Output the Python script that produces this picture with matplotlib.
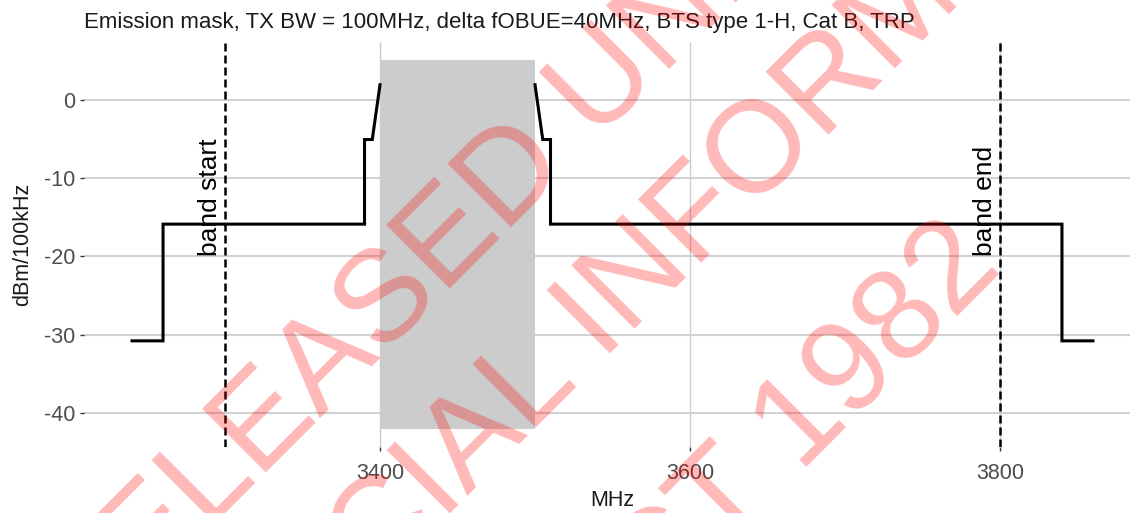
import matplotlib
matplotlib.use("Agg")
import matplotlib.pyplot as plt

# Emission mask, split around the carrier (MHz, dBm/100kHz)
lower_freq = [3240, 3260, 3260, 3390, 3390, 3395, 3400]
lower_level = [-30.8, -30.8, -15.9, -15.9, -5.1, -5.1, 1.9]
upper_freq = [3500, 3505, 3510, 3510, 3840, 3840, 3860]
upper_level = [1.9, -5.1, -5.1, -15.9, -15.9, -30.8, -30.8]

# Carrier block
carrier_start, carrier_end = 3400, 3500
carrier_top, carrier_bottom = 5, -42

# Operating band edges
band_edges = [3300, 3800]
band_labels = ["band start", "band end"]
band_label_level = -20

x_ticks = [3400, 3600, 3800]
x_tick_labels = ["3400", "3600", "3800"]
y_ticks = [0, -10, -20, -30, -40]
y_tick_labels = ["0", "-10", "-20", "-30", "-40"]

title = "Emission mask, TX BW = 100MHz, delta fOBUE=40MHz, BTS type 1-H, Cat B, TRP"
stamp_lines = ["RELEASED UNDER THE", "OFFICIAL INFORMATION", "ACT 1982"]

W, H, DPI = 1130, 513, 100
FONT = "Liberation Sans"
plt.rcParams["font.family"] = [FONT, "DejaVu Sans"]

fig = plt.figure(figsize=(W / DPI, H / DPI), dpi=DPI)
fig.patch.set_facecolor("white")
ax = fig.add_axes([84 / W, 66 / H, 1057 / W, 405 / H])
ax.set_facecolor("white")

# panel grid
for y in y_ticks:
    ax.axhline(y, color="#d2d2d2", lw=1.5, zorder=0)
for x in x_ticks:
    ax.axvline(x, color="#cbcbcb", lw=1.0, zorder=0)

ax.fill_between([carrier_start, carrier_end], carrier_bottom, carrier_top,
                color="#cccccc", lw=0, zorder=1)

ax.plot(lower_freq, lower_level, color="black", lw=2.2, zorder=3,
        solid_joinstyle="miter")
ax.plot(upper_freq, upper_level, color="black", lw=2.2, zorder=3,
        solid_joinstyle="miter")

for xe, lab in zip(band_edges, band_labels):
    ax.axvline(xe, color="black", lw=1.8, linestyle=(0, (3.2, 1.6)), zorder=4)
    ax.annotate(lab, xy=(xe, band_label_level), xytext=(-5.5, 0),
                textcoords="offset points", rotation=90, rotation_mode="anchor",
                ha="left", va="baseline", fontsize=19, color="black", zorder=5)

ax.margins(x=0.05, y=0.05)

ax.set_xticks(x_ticks)
ax.set_xticklabels(x_tick_labels)
ax.set_yticks(y_ticks)
ax.set_yticklabels(y_tick_labels)
ax.tick_params(axis="both", length=3.2, width=1.0, color="#333333",
               labelcolor="#4d4d4d", labelsize=15.5, pad=3)
ax.tick_params(axis="x", pad=8)
for s in ax.spines.values():
    s.set_visible(False)

ax.set_xlabel("MHz", fontsize=15.5, color="#1a1a1a")
ax.xaxis.set_label_coords(0.5, -(501 - 447) / 405)
ax.xaxis.label.set_va("center")
ax.set_ylabel("dBm/100kHz", fontsize=15.5, color="#1a1a1a")
ax.yaxis.set_label_coords((23 - 84) / 1057, 0.5)
ax.yaxis.label.set_va("center")

ax.set_title(title, loc="left", fontsize=16, color="#1a1a1a", pad=10)

# diagonal release stamp (baseline start points, pixels from top-left)
stamp_anchor_px = [(80, 658), (166, 797), (592, 681)]
for text, (px, py) in zip(stamp_lines, stamp_anchor_px):
    fig.text(px / W, 1 - py / H, text, rotation=45, rotation_mode="anchor",
             ha="left", va="baseline", fontsize=93.6, family=FONT,
             color="#ff0000", alpha=0.28, zorder=10)

fig.savefig("out.png", dpi=DPI, facecolor="white")
